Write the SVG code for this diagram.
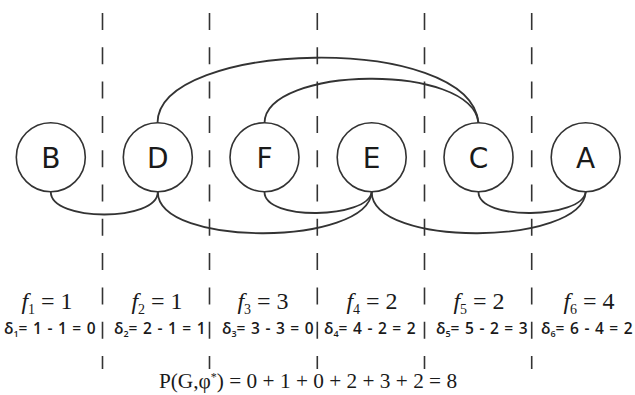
<svg xmlns="http://www.w3.org/2000/svg" width="635" height="395" viewBox="0 0 635 395">
<style>
.dash{stroke:#333;stroke-width:1.6;stroke-dasharray:17 17.3;fill:none}
.node circle{fill:#fff;stroke:#333;stroke-width:1.6}
.node text{font-family:"DejaVu Sans",sans-serif;font-size:28px;fill:#1a1a1a;text-anchor:middle}
.edge{fill:none;stroke:#333;stroke-width:1.8}
.f{font-family:"Liberation Serif",serif;font-size:24px;fill:#1a1a1a;text-anchor:middle}
.d{font-family:"Open Sans",sans-serif;font-weight:600;font-size:15.5px;fill:#1a1a1a;word-spacing:1.5px}
.p{font-family:"Liberation Serif",serif;font-size:21.3px;fill:#1a1a1a;text-anchor:middle}
</style>
<rect width="635" height="395" fill="#fff"/>
<g id="dividers">
<line class="dash" x1="102.5" y1="13" x2="102.5" y2="369"/>
<line class="dash" x1="209.5" y1="13" x2="209.5" y2="369"/>
<line class="dash" x1="317.3" y1="13" x2="317.3" y2="369"/>
<line class="dash" x1="424.5" y1="13" x2="424.5" y2="369"/>
<line class="dash" x1="531.7" y1="13" x2="531.7" y2="369"/>
</g>
<g id="connectors">
<path class="edge" d="M157.5,123 C158,40 470,32 478.5,123"/>
<path class="edge" d="M264.5,123 C265,66 472,62 478.5,123"/>
<path class="edge" d="M50.8,192 C50.8,222 157.8,222 157.8,192"/>
<path class="edge" d="M157.8,192 C158,248 368,246 371.7,192"/>
<path class="edge" d="M264.5,192 C264.5,221 368,219 371.7,192"/>
<path class="edge" d="M371.7,192 C372,248 582,246 585.7,192"/>
<path class="edge" d="M478.5,192 C478.5,221 582,219 585.7,192"/>
</g>
<g id="node-B" class="node"><circle cx="50.8" cy="157.2" r="34.5"/><text x="50.8" y="167.5">B</text></g>
<g id="node-D" class="node"><circle cx="157.8" cy="157.2" r="34.5"/><text x="157.8" y="167.5">D</text></g>
<g id="node-F" class="node"><circle cx="264.5" cy="157.2" r="34.5"/><text x="264.5" y="167.5">F</text></g>
<g id="node-E" class="node"><circle cx="371.7" cy="157.2" r="34.5"/><text x="371.7" y="167.5">E</text></g>
<g id="node-C" class="node"><circle cx="478.5" cy="157.2" r="34.5"/><text x="478.5" y="167.5">C</text></g>
<g id="node-A" class="node"><circle cx="585.7" cy="157.2" r="34.5"/><text x="585.7" y="167.5">A</text></g>
<g id="labels">
<text class="f" x="47" y="309"><tspan font-style="italic">f</tspan><tspan font-size="14" dy="5">1</tspan><tspan dy="-5"> = 1</tspan></text>
<text class="f" x="157" y="309"><tspan font-style="italic">f</tspan><tspan font-size="14" dy="5">2</tspan><tspan dy="-5"> = 1</tspan></text>
<text class="f" x="263" y="309"><tspan font-style="italic">f</tspan><tspan font-size="14" dy="5">3</tspan><tspan dy="-5"> = 3</tspan></text>
<text class="f" x="372" y="309"><tspan font-style="italic">f</tspan><tspan font-size="14" dy="5">4</tspan><tspan dy="-5"> = 2</tspan></text>
<text class="f" x="479" y="309"><tspan font-style="italic">f</tspan><tspan font-size="14" dy="5">5</tspan><tspan dy="-5"> = 2</tspan></text>
<text class="f" x="589" y="309"><tspan font-style="italic">f</tspan><tspan font-size="14" dy="5">6</tspan><tspan dy="-5"> = 4</tspan></text>
<text class="d" x="4" y="334">δ<tspan font-size="9" dy="3">1</tspan><tspan dy="-3">= 1 - 1 = 0</tspan></text>
<text class="d" x="114" y="334">δ<tspan font-size="9" dy="3">2</tspan><tspan dy="-3">= 2 - 1 = 1</tspan></text>
<text class="d" x="222" y="334">δ<tspan font-size="9" dy="3">3</tspan><tspan dy="-3">= 3 - 3 = 0</tspan></text>
<text class="d" x="324" y="334">δ<tspan font-size="9" dy="3">4</tspan><tspan dy="-3">= 4 - 2 = 2</tspan></text>
<text class="d" x="436" y="334">δ<tspan font-size="9" dy="3">5</tspan><tspan dy="-3">= 5 - 2 = 3</tspan></text>
<text class="d" x="541" y="334">δ<tspan font-size="9" dy="3">6</tspan><tspan dy="-3">= 6 - 4 = 2</tspan></text>
<text class="p" x="308" y="388">P(G,φ<tspan font-size="12" dy="-7">*</tspan><tspan dy="7">) = 0 + 1 + 0 + 2 + 3 + 2 = 8</tspan></text>
</g>
</svg>
